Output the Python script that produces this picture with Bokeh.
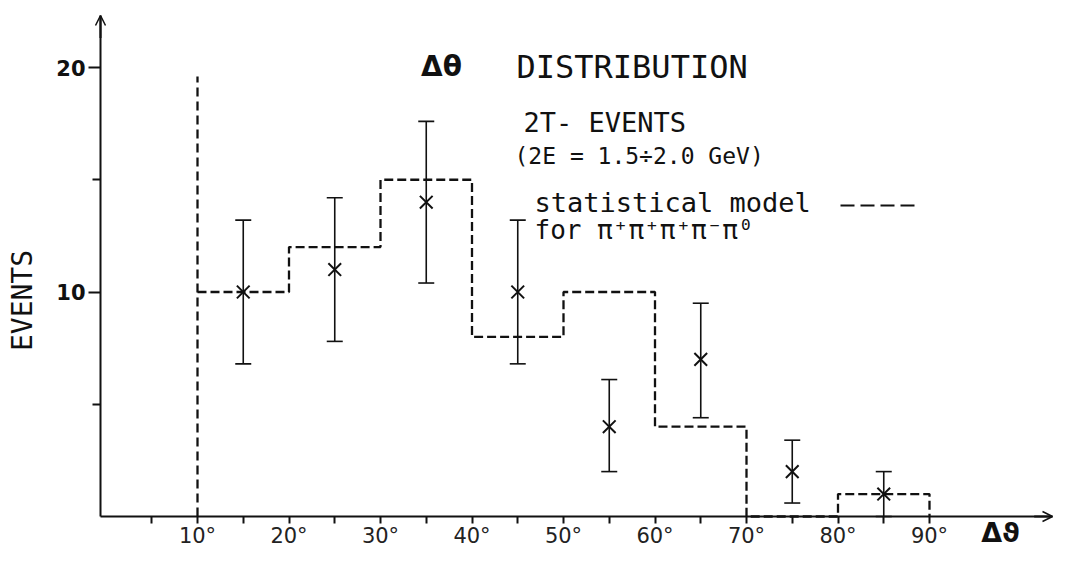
import math
from bokeh.plotting import figure
from bokeh.models import (FixedTicker, Whisker, TeeHead, Label, Arrow, OpenHead,
                          ColumnDataSource, Range1d)
from bokeh.embed import file_html
from bokeh.resources import INLINE

# ---------------- data ----------------
bin_edges = [10, 20, 30, 40, 50, 60, 70, 80, 90]
model_counts = [10, 12, 15, 8, 10, 4, 0, 1]          # statistical model histogram
cut_x = 10
cut_top = 19.6                                       # dashed vertical line at 10 deg

bin_centers = [15, 25, 35, 45, 55, 65, 75, 85]
events = [10, 11, 14, 10, 4, 7, 2, 1]
err_hi = [13.2, 14.2, 17.6, 13.2, 6.1, 9.5, 3.4, 2.0]
err_lo = [6.8, 7.8, 10.4, 6.8, 2.0, 4.4, 0.6, 0.0]

x_major = [10, 20, 30, 40, 50, 60, 70, 80, 90]
x_tick_labels = ["10°", "20°", "30°", "40°", "50°", "60°", "70°", "80°", "90°"]
x_minor = [5, 15, 25, 35, 45, 55, 65, 75, 85]
y_major = [10, 20]
y_tick_labels = ["10", "20"]
y_minor = [5, 15]

# ---------------- layout helpers (pixel -> data) ----------------
W, H = 1054, 549
X0, SX = 105.5, 9.15      # px of x=0, px per degree
Y0, SY = 516.0, 22.45     # px of y=0, px per event
def px2x(px):
    return (px - X0) / SX
def px2y(py):
    return (Y0 - py) / SY

p = figure(width=W, height=H, output_backend="svg", toolbar_location=None,
           x_range=Range1d(px2x(0), px2x(W)), y_range=Range1d(px2y(H), px2y(0)),
           min_border_left=0, min_border_right=0, min_border_top=0, min_border_bottom=0)
p.outline_line_color = None
p.grid.visible = False
p.background_fill_color = "white"
p.border_fill_color = "white"

ink = "#111111"
axis_x = px2x(100)
x_axis_end = px2x(1052)
y_axis_top = px2y(15)

# x axis
xa = p.xaxis[0]
xa.fixed_location = 0
xa.bounds = (axis_x, x_axis_end)
xa.ticker = FixedTicker(ticks=x_major, minor_ticks=x_minor)
xa.major_label_overrides = {t: l for t, l in zip(x_major, x_tick_labels)}
xa.axis_line_width = 2
xa.axis_line_color = ink
xa.major_tick_in = 0
xa.major_tick_out = 7
xa.minor_tick_in = 0
xa.minor_tick_out = 7
xa.major_tick_line_width = 2
xa.minor_tick_line_width = 2
xa.major_tick_line_color = ink
xa.minor_tick_line_color = ink
xa.major_label_standoff = 0
xa.major_label_text_font = "DejaVu Sans"
xa.major_label_text_font_size = "21px"
xa.major_label_text_color = "#222222"

# y axis
ya = p.yaxis[0]
ya.fixed_location = axis_x
ya.bounds = (0, y_axis_top)
ya.ticker = FixedTicker(ticks=y_major, minor_ticks=y_minor)
ya.major_label_overrides = {t: l for t, l in zip(y_major, y_tick_labels)}
ya.axis_line_width = 2
ya.axis_line_color = ink
ya.major_tick_in = 0
ya.major_tick_out = 12
ya.minor_tick_in = 0
ya.minor_tick_out = 8
ya.major_tick_line_width = 2
ya.minor_tick_line_width = 2
ya.major_tick_line_color = ink
ya.minor_tick_line_color = ink
ya.major_label_standoff = 3
ya.major_label_text_font = "DejaVu Sans"
ya.major_label_text_font_style = "bold"
ya.major_label_text_font_size = "21px"
ya.major_label_text_color = ink
ya.major_label_orientation = "horizontal"

# axis arrows
p.add_layout(Arrow(end=OpenHead(size=10, line_width=1.5, line_color=ink),
                   x_start=x_axis_end - 2, y_start=0, x_end=x_axis_end, y_end=0,
                   line_width=2, line_color=ink))
p.add_layout(Arrow(end=OpenHead(size=10, line_width=1.5, line_color=ink),
                   x_start=axis_x, y_start=y_axis_top - 1, x_end=axis_x, y_end=y_axis_top,
                   line_width=2, line_color=ink))

# statistical model histogram (dashed steps)
hx, hy = [], []
for i, c in enumerate(model_counts):
    hx += [bin_edges[i], bin_edges[i + 1]]
    hy += [c, c]
hx.append(bin_edges[-1])
hy.append(0)
p.line(hx, hy, line_color=ink, line_width=2.3, line_dash="9 4")
p.line([cut_x, cut_x], [0, cut_top], line_color=ink, line_width=2.3, line_dash="9 5")

# data points with error bars
src = ColumnDataSource(dict(x=bin_centers, y=events, upper=err_hi, lower=err_lo))
p.add_layout(Whisker(source=src, base="x", upper="upper", lower="lower",
                     line_color=ink, line_width=1.6,
                     upper_head=TeeHead(size=16, line_width=1.6, line_color=ink),
                     lower_head=TeeHead(size=16, line_width=1.6, line_color=ink)))
p.scatter("x", "y", source=src, marker="x", size=18, line_width=2, line_color=ink)

# texts
mono = "DejaVu Sans Mono"
def label(px, py, text, font, size, style="normal", align="left", angle=0.0):
    p.add_layout(Label(x=px2x(px), y=px2y(py), text=text, text_font=font,
                       text_font_style=style, text_font_size=size, text_color=ink,
                       text_align=align, text_baseline="middle", angle=angle))

label(441, 66, "Δθ", "DejaVu Sans", "28px", style="bold", align="center")
label(516, 66, "DISTRIBUTION", mono, "32px")
label(523, 122, "2T- EVENTS", mono, "27px")
label(514, 155, "(2E = 1.5÷2.0 GeV)", mono, "23px")
label(534, 202, "statistical model", mono, "27px")
p.line([px2x(840), px2x(918)], [px2y(205), px2y(205)], line_color=ink, line_width=2,
       line_dash="14 6")
label(534, 229, "for  π⁺π⁺π⁺π⁻π⁰", mono, "26px")
label(22, 300, "EVENTS", mono, "28px", align="center", angle=math.pi / 2)
label(1000, 532, "Δϑ", "DejaVu Sans", "27px", style="bold", align="center")

open("out.html", "w").write(file_html(p, INLINE))
